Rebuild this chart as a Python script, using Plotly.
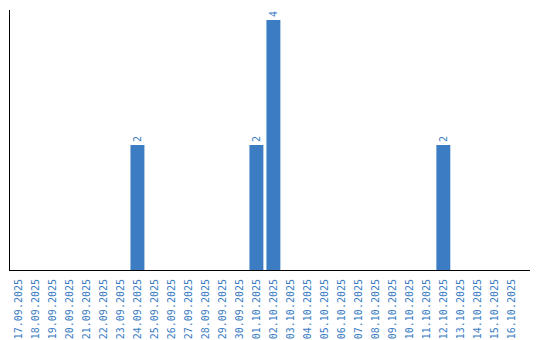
import plotly.graph_objects as go

dates = ["17.09.2025", "18.09.2025", "19.09.2025", "20.09.2025", "21.09.2025",
         "22.09.2025", "23.09.2025", "24.09.2025", "25.09.2025", "26.09.2025",
         "27.09.2025", "28.09.2025", "29.09.2025", "30.09.2025", "01.10.2025",
         "02.10.2025", "03.10.2025", "04.10.2025", "05.10.2025", "06.10.2025",
         "07.10.2025", "08.10.2025", "09.10.2025", "10.10.2025", "11.10.2025",
         "12.10.2025", "13.10.2025", "14.10.2025", "15.10.2025", "16.10.2025"]
counts = [0, 0, 0, 0, 0, 0, 0, 2, 0, 0, 0, 0, 0, 0, 2, 4, 0, 0, 0, 0,
          0, 0, 0, 0, 0, 2, 0, 0, 0, 0]

blue = "#3b7cc3"
labels = [str(v) if v else "" for v in counts]
mono = "DejaVu Sans Mono"

fig = go.Figure(go.Bar(
    x=dates, y=counts, marker=dict(color=blue, line=dict(width=0)),
    text=labels, textposition="outside", textangle=-90,
    textfont=dict(color=blue, size=10, family=mono),
    cliponaxis=False,
))

fig.update_layout(
    width=540, height=340,
    margin=dict(l=10, r=10, t=10, b=70),
    plot_bgcolor="white", paper_bgcolor="white",
    bargap=0.18, showlegend=False,
    font=dict(family=mono, size=10, color=blue),
)
fig.update_xaxes(type="category", range=[-0.5, 30.1], tickangle=-90,
                 showline=True, linecolor="black", linewidth=1, automargin=False,
                 ticklabelstandoff=4,
                 showgrid=False, ticks="", tickfont=dict(size=10, color=blue, family=mono))
fig.update_yaxes(range=[0, 4.16], showline=True, linecolor="black", linewidth=1,
                 automargin=False,
                 showgrid=False, zeroline=False, showticklabels=False, ticks="")

fig.write_html("out.html")
